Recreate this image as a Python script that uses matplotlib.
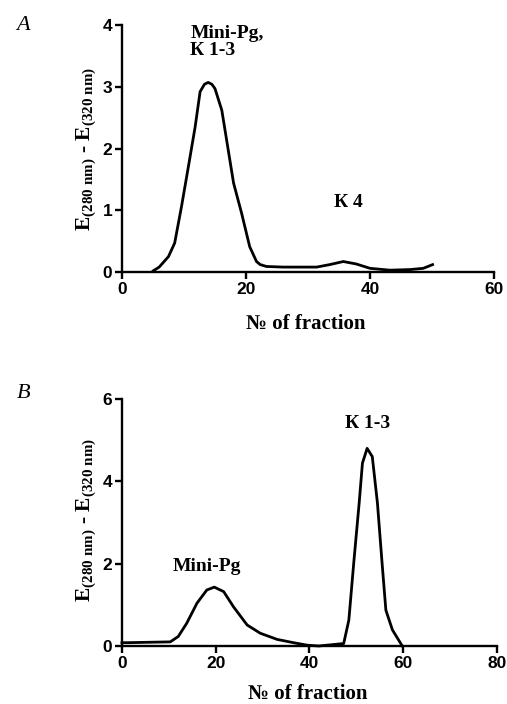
import matplotlib
matplotlib.use("Agg")
import matplotlib.pyplot as plt

plt.rcParams['mathtext.fontset'] = 'custom'
plt.rcParams['mathtext.rm'] = 'Liberation Serif:bold'
plt.rcParams['mathtext.it'] = 'Liberation Serif:bold'
plt.rcParams['mathtext.bf'] = 'Liberation Serif:bold'

# panel A: elution profile
a_x = [5.05, 6.0, 7.5, 8.5, 9.6, 10.7, 11.8, 12.6, 13.3, 13.9, 14.5, 15.0, 16.1, 18.0, 19.3, 20.6, 21.7, 22.3, 23.3,
       26, 31.4, 33.5, 35.7, 37.8, 40, 43.2, 46.5, 48.6, 50.1]
a_y = [0.02, 0.08, 0.25, 0.47, 1.06, 1.7, 2.35, 2.92, 3.04, 3.07, 3.04, 2.97, 2.62, 1.44, 0.95, 0.41, 0.17, 0.12, 0.09,
       0.08, 0.08, 0.12, 0.17, 0.13, 0.06, 0.03, 0.04, 0.06, 0.12]

# panel B: elution profile
b_x = [0, 1.0, 10.3, 12.0, 13.8, 16.0, 18.1, 19.7, 21.7, 23.8, 26.7, 29.5, 33.1, 36.6, 39.5, 42, 47.3,
       48.4, 49.5, 50.6, 51.3, 52.3, 53.4, 54.5, 55.5, 56.3, 57.7, 59.8]
b_y = [0.08, 0.08, 0.1, 0.23, 0.55, 1.04, 1.36, 1.43, 1.32, 0.95, 0.51, 0.31, 0.16, 0.08, 0.02, 0.0, 0.06,
       0.63, 2.09, 3.47, 4.44, 4.8, 4.6, 3.47, 2.0, 0.87, 0.39, 0.0]

ylab = 'E$_{\\mathrm{(280\\ nm)}}$ - E$_{\\mathrm{(320\\ nm)}}$'
serif = ['Liberation Serif', 'DejaVu Serif']
sans = ['Liberation Sans', 'DejaVu Sans']

fig = plt.figure(figsize=(5.07, 7.04), dpi=100)
axA = fig.add_axes([0.2406, 0.6136, 0.7337, 0.3509])
axB = fig.add_axes([0.2406, 0.0824, 0.7396, 0.3509])


def style(ax, xmax, ymax, xt, yt, xlab_y, ylab_x, ylab_y):
    ax.set_xlim(0, xmax)
    ax.set_ylim(0, ymax)
    ax.set_xticks(xt)
    ax.set_yticks(yt)
    for s in ['top', 'right']:
        ax.spines[s].set_visible(False)
    for s in ['left', 'bottom']:
        ax.spines[s].set_linewidth(1.7)
    ax.tick_params(direction='out', length=5, width=1.7, labelsize=12.5, pad=2)
    for lab in ax.get_xticklabels() + ax.get_yticklabels():
        lab.set_fontfamily(sans)
        lab.set_fontweight('bold')
    ax.set_xlabel('№ of fraction', fontfamily=serif, fontweight='bold', fontsize=15)
    ax.set_ylabel(ylab, fontfamily=serif, fontweight='bold', fontsize=15.5)
    ax.xaxis.set_label_coords(0.495, xlab_y)
    ax.yaxis.set_label_coords(ylab_x, ylab_y)


axA.plot(a_x, a_y, color='black', lw=2.0, clip_on=False)
style(axA, 60, 4, [0, 20, 40, 60], [0, 1, 2, 3, 4], -0.17, -0.065, 0.5)
axA.text(11, 3.72, 'Mini-Pg,\nК 1-3', fontfamily=serif, fontweight='bold', fontsize=14,
         ha='left', va='center', linespacing=1.0)
axA.text(36.5, 1.13, 'К 4', fontfamily=serif, fontweight='bold', fontsize=14, ha='center', va='center')

axB.plot(b_x, b_y, color='black', lw=2.0, clip_on=False)
style(axB, 80, 6, [0, 20, 40, 60, 80], [0, 2, 4, 6], -0.155, -0.065, 0.51)
axB.text(18.2, 1.92, 'Mini-Pg', fontfamily=serif, fontweight='bold', fontsize=14, ha='center', va='center')
axB.text(52.4, 5.4, 'К 1-3', fontfamily=serif, fontweight='bold', fontsize=14, ha='center', va='center')

fig.text(23 / 507, 1 - 25 / 704, 'A', fontfamily=serif, style='italic', fontsize=16, ha='center', va='center')
fig.text(24 / 507, 1 - 394 / 704, 'B', fontfamily=serif, style='italic', fontsize=16, ha='center', va='center')

fig.savefig('out.png', dpi=100)
